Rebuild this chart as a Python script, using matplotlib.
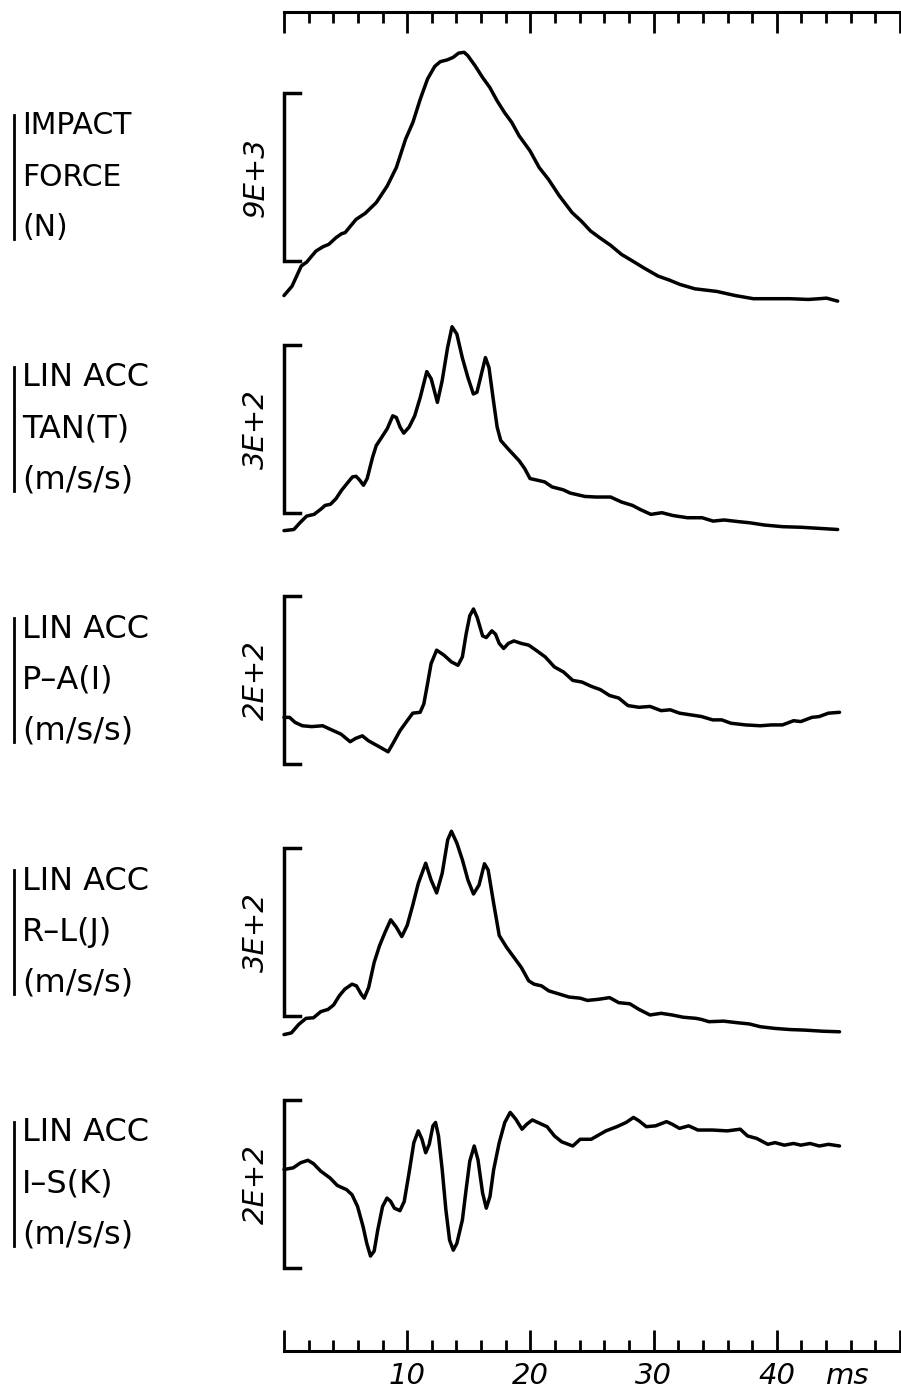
import matplotlib.pyplot as plt
from matplotlib.lines import Line2D

# =========================================
# DATA (time in ms)
# =========================================

t_force = [0.0, 0.65, 1.40, 1.84, 2.59, 3.18, 3.63, 4.22, 4.67, 4.96, 5.41, 5.85, 6.60, 7.49,
           8.38, 9.12, 9.87, 10.46, 11.06, 11.65, 12.24, 12.69, 13.28, 13.73, 14.18, 14.62,
           14.92, 15.51, 16.11, 16.70, 17.30, 17.89, 18.49, 19.08, 19.97, 20.71, 21.46, 22.35,
           23.39, 24.13, 24.88, 25.62, 26.51, 27.40, 28.29, 29.18, 30.37, 31.27, 32.16, 33.35,
           35.13, 36.62, 38.10, 39.29, 41.07, 42.56, 43.45, 44.04, 44.94]
impact_force = [300, 800, 1880, 2090, 2680, 2920, 3040, 3400, 3610, 3670, 4030, 4380, 4710, 5280,
                6170, 7160, 8680, 9570, 10820, 11900, 12580, 12830, 12930, 13060, 13290, 13330,
                13150, 12610, 11990, 11450, 10730, 10110, 9570, 8860, 8050, 7160, 6530, 5640,
                4740, 4290, 3760, 3400, 2990, 2500, 2150, 1790, 1340, 1130, 890, 660,
                520, 300, 130, 130, 130, 90, 130, 160, 0]

t_tan = [0.0, 0.80, 1.25, 1.84, 2.44, 3.03, 3.33, 3.77, 4.22, 4.67, 5.11, 5.56, 5.85, 6.15, 6.45,
         6.75, 7.19, 7.49, 7.94, 8.38, 8.83, 9.12, 9.42, 9.72, 10.16, 10.61, 11.06, 11.59, 11.95,
         12.45, 12.84, 13.28, 13.64, 14.03, 14.47, 14.92, 15.37, 15.66, 15.96, 16.35, 16.64,
         17.00, 17.30, 17.59, 18.19, 19.08, 19.53, 19.97, 20.57, 21.16, 21.76, 22.65, 23.24,
         24.43, 25.32, 26.51, 27.40, 28.29, 28.89, 29.78, 30.67, 31.56, 32.75, 33.94, 34.83,
         35.72, 36.91, 37.80, 38.99, 40.48, 41.97, 43.45, 44.94]
acc_tan = [-2, 0, 11, 24, 27, 37, 43, 45, 55, 70, 82, 94, 95, 88, 79,
           91, 129, 150, 165, 180, 203, 200, 183, 172, 183, 203, 236, 282, 269,
           227, 266, 325, 362, 349, 307, 272, 242, 245, 272, 307, 289,
           230, 183, 159, 144, 123, 109, 91, 88, 85, 76, 71, 65,
           59, 58, 58, 49, 43, 36, 27, 30, 25, 21, 21, 15,
           17, 14, 12, 8, 5, 4, 2, 0]

t_pa = [0.0, 0.45, 0.90, 1.49, 2.24, 3.14, 3.73, 4.63, 5.37, 5.82, 6.36, 6.87, 7.61, 8.45, 8.81,
        9.41, 10.00, 10.45, 11.05, 11.35, 11.65, 11.94, 12.39, 12.99, 13.59, 14.12, 14.48,
        14.78, 15.08, 15.38, 15.68, 16.12, 16.42, 16.87, 17.17, 17.47, 17.83, 18.21, 18.66,
        19.26, 19.86, 20.45, 21.20, 21.95, 22.69, 23.44, 24.19, 24.93, 25.68, 26.43, 27.17,
        27.92, 28.81, 29.71, 30.61, 31.35, 32.10, 33.00, 33.89, 34.79, 35.53, 36.28, 37.47,
        38.67, 39.56, 40.46, 41.36, 41.95, 42.85, 43.45, 44.19, 45.09]
acc_pa = [0, 0, -6, -10, -11, -10, -14, -20, -29, -25, -22, -28, -34, -41, -32,
          -16, -4, 5, 6, 16, 40, 64, 80, 74, 66, 62, 72,
          99, 121, 129, 119, 97, 95, 103, 99, 88, 82, 88, 91,
          88, 86, 80, 72, 60, 54, 44, 42, 37, 33, 26, 23,
          14, 12, 13, 8, 9, 5, 3, 1, -3, -3, -7, -9,
          -10, -9, -9, -4, -5, 0, 1, 5, 6]

t_rl = [0.0, 0.60, 1.19, 1.79, 2.39, 2.99, 3.58, 4.03, 4.48, 4.93, 5.52, 5.88, 6.27, 6.51, 6.87,
        7.32, 7.76, 8.21, 8.66, 9.11, 9.56, 10.00, 10.45, 10.90, 11.50, 11.94, 12.39, 12.84,
        13.29, 13.59, 14.03, 14.48, 14.93, 15.38, 15.83, 16.27, 16.57, 17.02, 17.47, 18.06,
        18.66, 19.26, 19.86, 20.30, 20.90, 21.50, 22.25, 23.14, 24.04, 24.63, 25.53, 26.43,
        27.17, 28.07, 28.81, 29.71, 30.61, 31.50, 32.40, 33.44, 33.89, 34.49, 35.68, 36.88,
        37.77, 38.67, 39.86, 41.06, 42.25, 43.74, 45.09]
acc_rl = [-5, -2, 13, 24, 25, 36, 40, 48, 64, 76, 85, 82, 67, 60, 79,
          124, 154, 178, 200, 187, 170, 190, 226, 265, 301, 271, 248, 283,
          343, 358, 337, 307, 271, 246, 262, 300, 289, 229, 172, 151,
          133, 115, 91, 85, 82, 73, 68, 62, 60, 56, 58, 61,
          52, 50, 40, 30, 33, 30, 26, 24, 22, 18, 19, 16,
          14, 9, 6, 4, 3, 1, 0]

t_is = [0.0, 0.75, 1.34, 1.94, 2.39, 2.99, 3.73, 4.33, 5.08, 5.52, 5.97, 6.42, 6.72, 7.02, 7.32,
        7.61, 8.00, 8.36, 8.66, 8.96, 9.41, 9.76, 10.15, 10.54, 10.90, 11.20, 11.50, 11.79,
        12.09, 12.30, 12.54, 12.84, 13.14, 13.44, 13.74, 14.03, 14.48, 14.78, 15.08, 15.44,
        15.74, 16.12, 16.42, 16.72, 17.02, 17.47, 17.92, 18.36, 18.81, 19.32, 19.71, 20.16,
        20.75, 21.35, 21.95, 22.54, 23.44, 24.04, 24.93, 25.53, 26.13, 27.02, 27.77, 28.37,
        28.81, 29.41, 30.16, 31.05, 31.50, 32.10, 32.85, 33.59, 34.79, 35.98, 37.03, 37.62,
        38.37, 39.27, 39.86, 40.61, 41.36, 41.95, 42.70, 43.45, 44.19, 45.09]
acc_is = [0, 2, 8, 11, 7, -2, -10, -19, -24, -30, -44, -68, -88, -103, -97,
          -72, -44, -34, -38, -46, -49, -38, -4, 32, 46, 36, 20, 30,
          52, 56, 40, 0, -48, -84, -96, -88, -60, -24, 10, 28,
          12, -28, -46, -32, 0, 32, 56, 68, 60, 48, 54, 59,
          55, 51, 40, 33, 28, 36, 36, 41, 46, 51, 56, 62,
          58, 51, 52, 57, 54, 49, 52, 47, 47, 46, 48, 40,
          37, 30, 32, 29, 31, 29, 31, 28, 30, 28]

times = [t_force, t_tan, t_pa, t_rl, t_is]
traces = [impact_force, acc_tan, acc_pa, acc_rl, acc_is]

# scale bars: lower end and size in the channel's units
bar_low = [2150, 30, -56, 28, -117]
bar_size = [9000, 300, 200, 300, 200]
bar_text = ["9E+3", "3E+2", "2E+2", "3E+2", "2E+2"]

channel_names = [["IMPACT", "FORCE", "(N)"],
                 ["LIN ACC", "TAN(T)", "(m/s/s)"],
                 ["LIN ACC", "P\u2013A(I)", "(m/s/s)"],
                 ["LIN ACC", "R\u2013L(J)", "(m/s/s)"],
                 ["LIN ACC", "I\u2013S(K)", "(m/s/s)"]]

# =========================================
# FIGURE
# =========================================

W, H = 901, 1398
fig = plt.figure(figsize=(W / 100, H / 100), dpi=100)
plt.rcParams['font.family'] = ['DejaVu Sans']


def fx(px):
    return px / W


def fy(py):
    return 1 - py / H


X0, X1 = 284, 900   # pixel columns of 0 ms and 50 ms
LW = 2.5

# =========================================
# CHANNEL PANELS
# =========================================

for i in range(5):
    b_top = 93 + 251.7 * i
    b_bot = b_top + 168
    top, bot = b_top - 80, b_bot + 55
    lo = bar_low[i]
    hi = lo + bar_size[i]
    per_px = bar_size[i] / (b_bot - b_top)

    ax = fig.add_axes([fx(X0), fy(bot), fx(X1) - fx(X0), (bot - top) / H])
    ax.set_xlim(0, 50)
    ax.set_ylim(lo - (bot - b_bot) * per_px, hi + (b_top - top) * per_px)
    ax.axis('off')

    ax.plot(times[i], traces[i], color='black', lw=LW, clip_on=False,
            solid_joinstyle='round', solid_capstyle='round')

    # bracket scale bar
    ax.plot([1.3, 0, 0, 1.3], [hi, hi, lo, lo], color='black', lw=LW,
            clip_on=False, solid_joinstyle='miter')

    yc = (b_top + b_bot) / 2
    fig.text(fx(256), fy(yc), bar_text[i], rotation=90, style='italic',
             fontsize=21, ha='center', va='center')

    # channel name with the bar in front
    fig.add_artist(Line2D([fx(14), fx(14)], [fy(yc - 62), fy(yc + 62)],
                          color='black', lw=2))
    size = 21.5 if i == 0 else 23
    for k, line in enumerate(channel_names[i]):
        fig.text(fx(22), fy(yc + (k - 1) * 51), line, fontsize=size,
                 ha='left', va='center')

# =========================================
# TIME RULERS
# =========================================

ruler_top = fig.add_axes([fx(X0), fy(42), fx(X1) - fx(X0), 30 / H])
ruler_bot = fig.add_axes([fx(X0), fy(1351), fx(X1) - fx(X0), 30 / H])

for r in [ruler_top, ruler_bot]:
    r.set_xlim(0, 50)
    r.set_yticks([])
    r.patch.set_visible(False)
    for s in r.spines.values():
        s.set_visible(False)
    r.set_xticks(range(0, 51, 10))
    r.set_xticks(range(0, 51, 2), minor=True)

ruler_top.spines['top'].set_visible(True)
ruler_top.spines['top'].set_linewidth(2.2)
ruler_top.tick_params(axis='x', which='both', top=True, bottom=False,
                      labeltop=False, labelbottom=False, direction='in', width=2)
ruler_top.tick_params(axis='x', which='major', length=15)
ruler_top.tick_params(axis='x', which='minor', length=8)

ruler_bot.spines['bottom'].set_visible(True)
ruler_bot.spines['bottom'].set_linewidth(2.2)
ruler_bot.tick_params(axis='x', which='both', direction='in', width=2)
ruler_bot.tick_params(axis='x', which='major', length=15, pad=8, labelsize=21)
ruler_bot.tick_params(axis='x', which='minor', length=8)
ruler_bot.set_xticklabels(["", "10", "20", "30", "40", ""], style='italic')

fig.text(fx(848), fy(1376), "ms", fontsize=21, style='italic',
         ha='center', va='center')

plt.savefig("out.png", dpi=100)
